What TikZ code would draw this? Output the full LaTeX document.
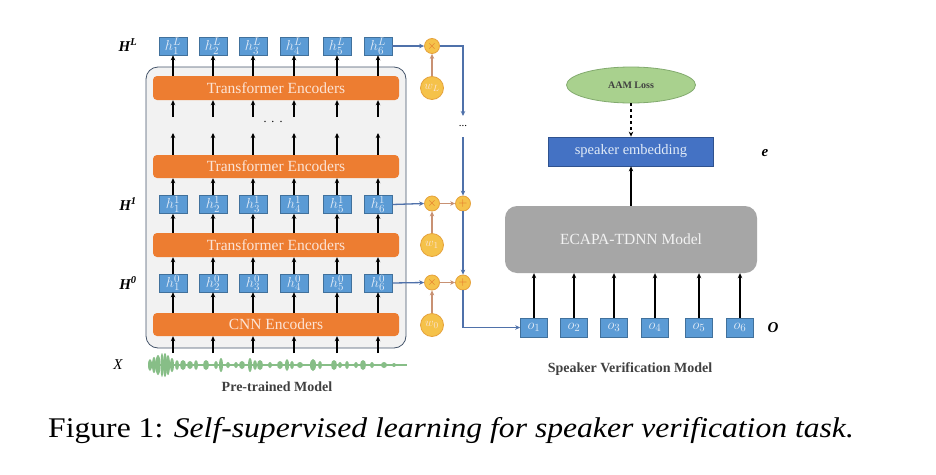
\documentclass[tikz,border=0pt]{standalone}
\usepackage{fontspec}
\setmainfont{Liberation Serif}
\usetikzlibrary{arrows.meta,shapes.geometric}
\definecolor{hblue}{RGB}{91,155,213}
\definecolor{hborder}{RGB}{65,113,156}
\definecolor{htext}{RGB}{225,235,247}
\definecolor{barorange}{RGB}{237,125,49}
\definecolor{bartext}{RGB}{252,228,214}
\definecolor{panelfill}{RGB}{242,242,242}
\definecolor{panelborder}{RGB}{68,84,106}
\definecolor{lineblue}{RGB}{79,113,170}
\definecolor{salmon}{RGB}{200,145,115}
\definecolor{gold}{RGB}{245,194,74}
\definecolor{goldborder}{RGB}{230,162,60}
\definecolor{crossc}{RGB}{225,110,40}
\definecolor{wavegreen}{RGB}{135,190,135}
\definecolor{aamfill}{RGB}{169,209,142}
\definecolor{aamborder}{RGB}{130,170,110}
\definecolor{embfill}{RGB}{68,114,196}
\definecolor{embborder}{RGB}{47,82,143}
\definecolor{ecapa}{RGB}{166,166,166}
\definecolor{darktext}{RGB}{64,64,64}
\tikzset{
  hbox/.style={rectangle,fill=hblue,draw=hborder,line width=0.6pt,minimum width=28pt,minimum height=18pt,inner sep=0pt,text=htext,font=\fontsize{15}{15}\selectfont},
  obox/.style={hbox,minimum width=27pt,minimum height=19pt},
  encbar/.style={rectangle,rounded corners=4pt,fill=barorange,minimum width=246pt,minimum height=24pt,inner sep=0pt,text=bartext,font=\fontsize{15.5}{15.5}\selectfont},
  arr/.style={line width=1.6pt,-{Stealth[length=5pt,width=4.5pt]}},
  barr/.style={lineblue,line width=1.3pt,-{Stealth[length=5pt,width=4.5pt]}},
  sarr/.style={salmon,line width=1.5pt,-{Stealth[length=5pt,width=4.5pt]}},
  wcirc/.style={circle,fill=gold,draw=goldborder,line width=0.8pt,minimum size=23pt,inner sep=0pt,text=bartext,font=\fontsize{13}{13}\selectfont},
  opcirc/.style={circle,fill=gold,draw=goldborder,line width=0.8pt,minimum size=15pt,inner sep=0pt,text=crossc,font=\fontsize{13}{13}\selectfont},
  lbl/.style={font=\fontsize{15}{15}\selectfont\bfseries\itshape},
  wv/.style={fill=wavegreen}
}
\begin{document}
\begin{tikzpicture}[x=1pt,y=-1pt]
\useasboundingbox[fill=white] (0,0) rectangle (936,474);
% panel
\draw[rounded corners=12pt,fill=panelfill,draw=panelborder,line width=0.8pt] (146,67) rectangle (406,348);
% bars
\node[encbar] (bar3) at (276,88) {Transformer Encoders};
\node[encbar,minimum height=23pt] (bar2) at (276,166.5) {Transformer Encoders};
\node[encbar] (bar1) at (276,245) {Transformer Encoders};
\node[encbar,minimum height=23pt] (cnn) at (276,324.5) {CNN Encoders};
\node[font=\fontsize{12}{12}\selectfont] (vdots) at (273,122) {.\hspace{5pt}.\hspace{5pt}.};
% columns
\foreach \i/\x in {1/173,2/213,3/253,4/294,5/337,6/378} {
  \node[hbox] (hL\i) at (\x,46) {$h_{\i}^{L}$};
  \node[hbox] (ha\i) at (\x,204.5) {$h_{\i}^{1}$};
  \node[hbox] (hb\i) at (\x,283) {$h_{\i}^{0}$};
  \coordinate (t\i) at (\x,117);
  \coordinate (u\i) at (\x,133);
  \coordinate (w\i) at (\x,353);
  \draw[arr] (bar3.north -| hL\i) -- (hL\i.south);
  \draw[arr] (t\i) -- (bar3.south -| t\i);
  \draw[arr] (bar2.north -| u\i) -- (u\i);
  \draw[arr] (ha\i.north) -- (bar2.south -| ha\i);
  \draw[arr] (bar1.north -| ha\i) -- (ha\i.south);
  \draw[arr] (hb\i.north) -- (bar1.south -| hb\i);
  \draw[arr] (cnn.north -| hb\i) -- (hb\i.south);
  \draw[arr] (w\i) -- (cnn.south -| w\i);
}
% left labels
\node[lbl] (HL) at (128,45) {H\textsuperscript{L}};
\node[lbl] (H1) at (128,204) {H\textsuperscript{1}};
\node[lbl] (H0) at (128,283) {H\textsuperscript{0}};
\node[font=\fontsize{15}{15}\selectfont\itshape] (X) at (118,365) {X};
% waveform
\draw[wavegreen,line width=1.4pt] (148,365) -- (407,365);
\foreach \x/\rx/\ry in {150/2/6,154/2/8,158/2.5/10,162/1.5/12,165/2/12,168/2/10,172/2/7,177/2/5,183/3/5,190/3/4,196/2/5,206/3/5,216/2/4,221/2/7,228/2/3,236/2/3,242/3/4,250/2/7,255/2/5,260/3/5,270/2/3,280/3/4,287/2/6,292/2/4,300/3/3,313/3/6,320/2/4,334/3/5,340/2/3,347/2/4,356/2/3,363/3/5,372/2/3,384/3/3,394/2/2}
  \fill[wv] (\x,365) ellipse [x radius=\rx pt, y radius=\ry pt];
\node[font=\fontsize{14}{14}\selectfont\bfseries,text=darktext] (pre) at (277,387) {Pre-trained Model};
% weighting
\node[opcirc] (mL) at (432,46) {$\times$};
\node[wcirc] (wL) at (432,88) {$w_L$};
\node[opcirc] (m1) at (432,203.5) {$\times$};
\node[opcirc] (p1) at (463,203.5) {$+$};
\node[wcirc] (w1) at (432,245) {$w_1$};
\node[opcirc] (m0) at (432,282.5) {$\times$};
\node[opcirc] (p0) at (463,282.5) {$+$};
\node[wcirc] (w0) at (432,325) {$w_0$};
\coordinate (dtop) at (463,116);
\coordinate (dbot) at (463,137);
\node[font=\fontsize{11}{11}\selectfont] (hdots) at (463,126) {...};
\draw[barr] (hL6.east) -- (mL.west);
\draw[barr] (mL.east) -| (dtop);
\draw[sarr] (wL.north) -- (mL.south);
\draw[barr] (dbot) -- (p1.north);
\draw[barr] (ha6.east) -- (m1.west);
\draw[sarr] (m1.east) -- (p1.west);
\draw[sarr] (w1.north) -- (m1.south);
\draw[barr] (p1.south) -- (p0.north);
\draw[barr] (hb6.east) -- (m0.west);
\draw[sarr] (m0.east) -- (p0.west);
\draw[sarr] (w0.north) -- (m0.south);
% right model
\node[ellipse,fill=aamfill,draw=aamborder,line width=0.8pt,minimum width=129pt,minimum height=36pt,inner sep=0pt,font=\fontsize{10}{10}\selectfont\bfseries,text=darktext] (aam) at (631,85) {AAM Loss};
\node[rectangle,fill=embfill,draw=embborder,line width=0.8pt,minimum width=165pt,minimum height=29pt,inner sep=0pt,text=htext,font=\fontsize{14.5}{14.5}\selectfont] (emb) at (631,151.5) {speaker embedding};
\node[lbl] (e) at (765,153) {e};
\node[rectangle,rounded corners=12pt,fill=ecapa,minimum width=252pt,minimum height=67pt,inner sep=0pt,text=panelfill,font=\fontsize{15.5}{15.5}\selectfont] (ecapa) at (631,239.5) {ECAPA-TDNN Model};
\draw[line width=1.6pt,dashed,-{Stealth[length=5pt,width=4.5pt]}] (aam.south) -- (emb.north -| aam.south);
\draw[arr] (ecapa.north -| emb.south) -- (emb.south);
\foreach \i/\x in {1/534,2/574,3/614,4/655,5/699,6/740} {
  \node[obox] (o\i) at (\x,327.5) {$o_{\i}$};
  \draw[arr] (o\i.north) -- (ecapa.south -| o\i);
}
\draw[barr] (p0.south) |- (o1.west);
\node[lbl] (O) at (773,328) {O};
\node[font=\fontsize{14}{14}\selectfont\bfseries,text=darktext] (svm) at (630,369) {Speaker Verification Model};
% caption
\node[anchor=base west,inner sep=0pt,font=\fontsize{28.5}{30}\selectfont] (cap) at (48,437) {\scalebox{1.11}[1]{Figure 1: \textit{Self-supervised learning for speaker verification task.}}};
\end{tikzpicture}
\end{document}
